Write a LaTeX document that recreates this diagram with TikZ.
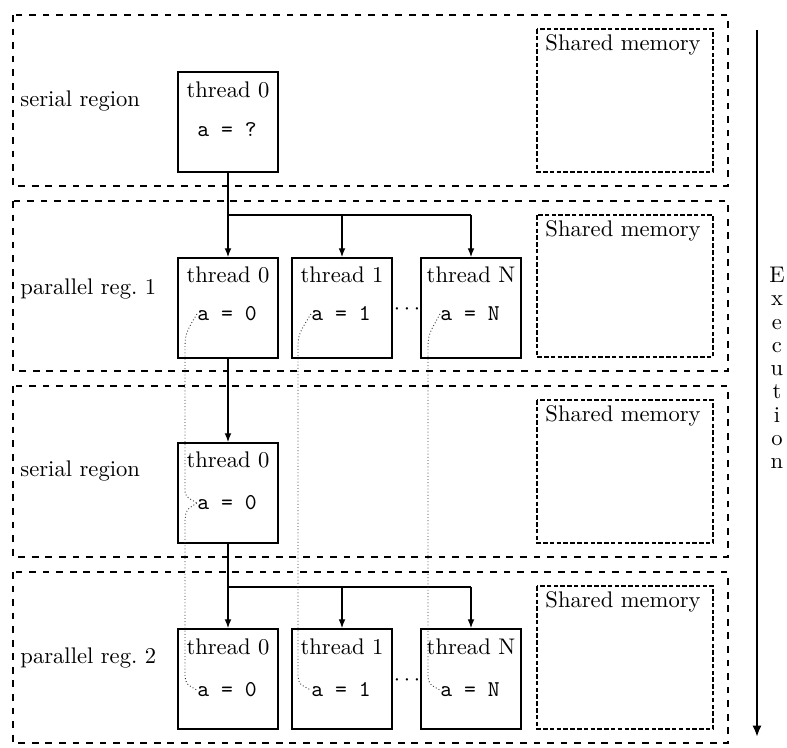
\documentclass[tikz,border=0pt]{standalone}
\usetikzlibrary{arrows.meta}
\begin{document}
\begin{tikzpicture}[x=0.4425pt,y=-0.4425pt,
 region/.style={draw, dashed, semithick},
 shared/.style={draw, dash pattern=on 2pt off 1pt, semithick},
 tbox/.style={draw, semithick, minimum width=44.25pt, minimum height=44.25pt, inner sep=0pt},
 flow/.style={-{Latex[length=4pt,width=3pt]}, semithick},
 dataflow/.style={densely dotted, black!80},
 lbl/.style={anchor=west, inner sep=0pt},
 code/.style={font=\ttfamily, inner sep=0pt}
]
\useasboundingbox (0,0) rectangle (787,747);

% regions
\draw[region] (13,15) rectangle (728,186);
\draw[region] (13,201) rectangle (728,371);
\draw[region] (13,386) rectangle (728,557);
\draw[region] (13,572) rectangle (728,743);

% shared memory
\foreach \t/\b in {29/172,215/357,400/543,586/729}{
  \draw[shared] (537,\t) rectangle (713,\b);
  \node[lbl] at (545,\t+16) {Shared memory};
}

% region labels
\node[lbl] (l1) at (20,101) {serial region};
\node[lbl] (l2) at (20,289) {parallel reg.\ 1};
\node[lbl] (l3) at (20,471) {serial region};
\node[lbl] (l4) at (20,658) {parallel reg.\ 2};

% serial 1
\node[tbox] (s1) at (228,122) {};
\node (s1t) at (228,90) {thread 0};
\node[code] (s1a) at (227,130) {a = ?};

% parallel 1
\node[tbox] (p10) at (228,308) {};
\node[tbox] (p11) at (342,308) {};
\node[tbox] (p1N) at (471,308) {};
\node (p10t) at (228,275) {thread 0};
\node (p11t) at (342,275) {thread 1};
\node (p1Nt) at (471,275) {thread N};
\node[code] (p10a) at (227,314) {a = 0};
\node[code] (p11a) at (341,314) {a = 1};
\node[code] (p1Na) at (470,314) {a = N};
\node (d1) at (407,309) {$\cdots$};

% serial 2
\node[tbox] (s2) at (228,493) {};
\node (s2t) at (228,460) {thread 0};
\node[code] (s2a) at (227,503) {a = 0};

% parallel 2
\node[tbox] (p20) at (228,679) {};
\node[tbox] (p21) at (342,679) {};
\node[tbox] (p2N) at (471,679) {};
\node (p20t) at (228,647) {thread 0};
\node (p21t) at (342,647) {thread 1};
\node (p2Nt) at (471,647) {thread N};
\node[code] (p20a) at (227,690) {a = 0};
\node[code] (p21a) at (341,690) {a = 1};
\node[code] (p2Na) at (470,690) {a = N};
\node (d2) at (407,680) {$\cdots$};

% fork 1
\coordinate (b1) at (228,215);
\draw[flow] (s1.south) -- (p10.north);
\draw[semithick] (b1) -- (b1 -| p1N.north);
\draw[flow] (b1 -| p11.north) -- (p11.north);
\draw[flow] (b1 -| p1N.north) -- (p1N.north);

% join
\draw[flow] (p10.south) -- (s2.north);

% fork 2
\coordinate (b2) at (228,587);
\draw[flow] (s2.south) -- (p20.north);
\draw[semithick] (b2) -- (b2 -| p2N.north);
\draw[flow] (b2 -| p21.north) -- (p21.north);
\draw[flow] (b2 -| p2N.north) -- (p2N.north);

% data flow of a
\draw[dataflow] (p10a.west) .. controls (190,326) and (185,332) .. (185,345) -- (185,488) .. controls (185,496) .. (s2a.west);
\draw[dataflow] (s2a.west) .. controls (186,510) .. (185,520) -- (185,676) .. controls (186,684) .. (p20a.west);
\draw[dataflow] (p11a.west) .. controls (304,326) and (298,332) .. (298,345) -- (298,676) .. controls (299,684) .. (p21a.west);
\draw[dataflow] (p1Na.west) .. controls (434,326) and (428,332) .. (428,345) -- (428,676) .. controls (429,684) .. (p2Na.west);

% execution
\coordinate (e1) at (757,30);
\coordinate (e2) at (757,737);
\draw[line width=1.2pt, -{Latex[length=5pt,width=4pt]}] (e1) -- (e2);
\node[align=center, font={\fontsize{10}{10.3}\selectfont}] (ex) at (777,368) {E\\x\\e\\c\\u\\t\\i\\o\\n};
\end{tikzpicture}
\end{document}
